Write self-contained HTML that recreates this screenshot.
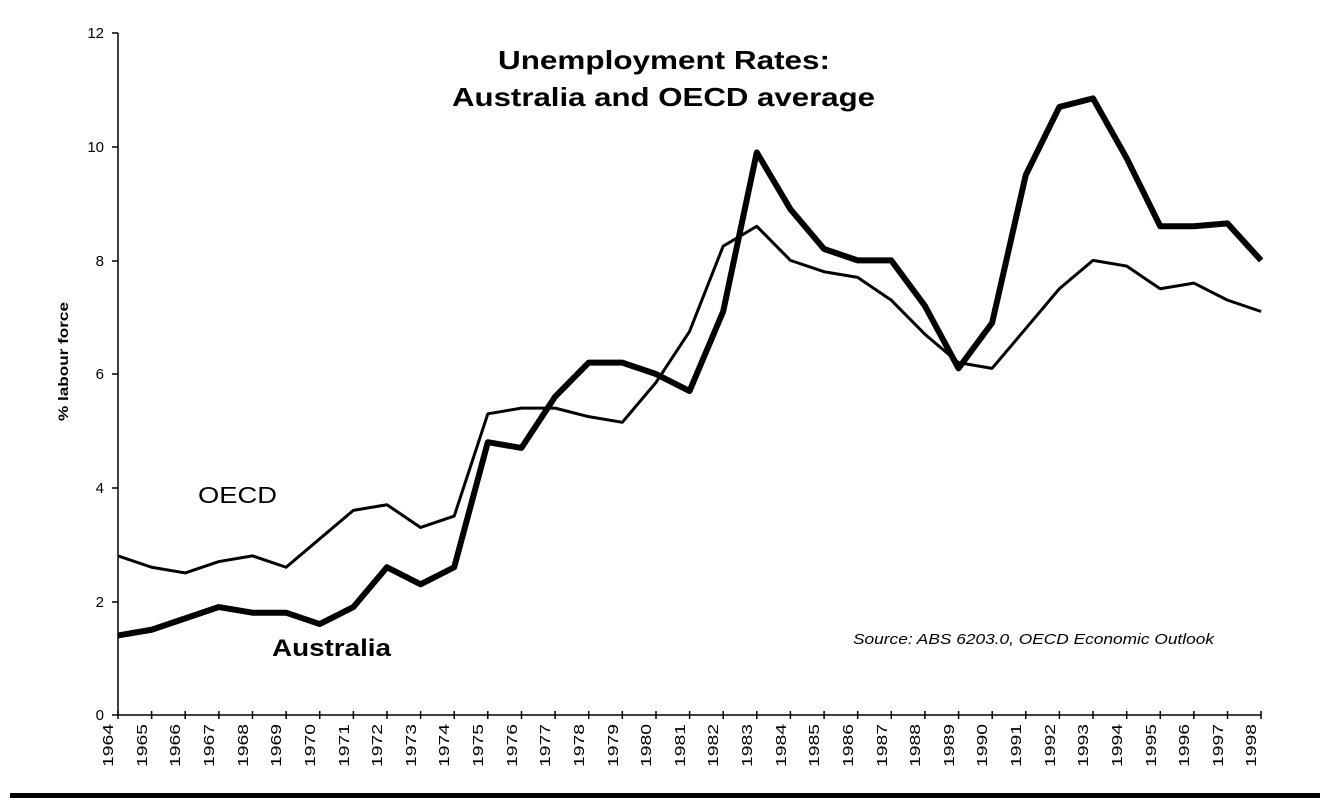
<!DOCTYPE html>
<html><head><style>body{margin:0;background:#fff}svg{display:block}text{font-family:"Liberation Sans",Arial,sans-serif}</style></head><body>
<svg width="1324" height="802" viewBox="0 0 1324 802">
<g stroke="#000" stroke-width="1.5" fill="none">
<line x1="118" y1="33" x2="118" y2="715"/>
<line x1="118" y1="715" x2="1261" y2="715"/>
<path d="M112 33h6M112 147h6M112 261h6M112 374h6M112 488h6M112 602h6M112 715h6"/>
<path d="M118 711v8M151.6 711v8M185.2 711v8M218.9 711v8M252.5 711v8M286.1 711v8M319.7 711v8M353.4 711v8M387 711v8M420.6 711v8M454.2 711v8M487.8 711v8M521.5 711v8M555.1 711v8M588.7 711v8M622.3 711v8M656 711v8M689.6 711v8M723.2 711v8M756.8 711v8M790.4 711v8M824.1 711v8M857.7 711v8M891.3 711v8M924.9 711v8M958.6 711v8M992.2 711v8M1025.8 711v8M1059.4 711v8M1093 711v8M1126.7 711v8M1160.3 711v8M1193.9 711v8M1227.5 711v8M1261 711v8"/>
</g>
<g font-size="15" text-anchor="end">
<text x="104" y="38">12</text><text x="104" y="152">10</text><text x="104" y="266">8</text><text x="104" y="379">6</text><text x="104" y="493">4</text><text x="104" y="607">2</text><text x="104" y="720">0</text>
</g>
<g font-size="15" text-anchor="end">
<text transform="translate(113,724) rotate(-90)" textLength="43" lengthAdjust="spacingAndGlyphs">1964</text><text transform="translate(147,724) rotate(-90)" textLength="43" lengthAdjust="spacingAndGlyphs">1965</text><text transform="translate(180,724) rotate(-90)" textLength="43" lengthAdjust="spacingAndGlyphs">1966</text><text transform="translate(214,724) rotate(-90)" textLength="43" lengthAdjust="spacingAndGlyphs">1967</text><text transform="translate(248,724) rotate(-90)" textLength="43" lengthAdjust="spacingAndGlyphs">1968</text><text transform="translate(281,724) rotate(-90)" textLength="43" lengthAdjust="spacingAndGlyphs">1969</text><text transform="translate(315,724) rotate(-90)" textLength="43" lengthAdjust="spacingAndGlyphs">1970</text><text transform="translate(349,724) rotate(-90)" textLength="43" lengthAdjust="spacingAndGlyphs">1971</text><text transform="translate(382,724) rotate(-90)" textLength="43" lengthAdjust="spacingAndGlyphs">1972</text><text transform="translate(416,724) rotate(-90)" textLength="43" lengthAdjust="spacingAndGlyphs">1973</text><text transform="translate(449,724) rotate(-90)" textLength="43" lengthAdjust="spacingAndGlyphs">1974</text><text transform="translate(483,724) rotate(-90)" textLength="43" lengthAdjust="spacingAndGlyphs">1975</text><text transform="translate(517,724) rotate(-90)" textLength="43" lengthAdjust="spacingAndGlyphs">1976</text><text transform="translate(550,724) rotate(-90)" textLength="43" lengthAdjust="spacingAndGlyphs">1977</text><text transform="translate(584,724) rotate(-90)" textLength="43" lengthAdjust="spacingAndGlyphs">1978</text><text transform="translate(618,724) rotate(-90)" textLength="43" lengthAdjust="spacingAndGlyphs">1979</text><text transform="translate(651,724) rotate(-90)" textLength="43" lengthAdjust="spacingAndGlyphs">1980</text><text transform="translate(685,724) rotate(-90)" textLength="43" lengthAdjust="spacingAndGlyphs">1981</text><text transform="translate(718,724) rotate(-90)" textLength="43" lengthAdjust="spacingAndGlyphs">1982</text><text transform="translate(752,724) rotate(-90)" textLength="43" lengthAdjust="spacingAndGlyphs">1983</text><text transform="translate(786,724) rotate(-90)" textLength="43" lengthAdjust="spacingAndGlyphs">1984</text><text transform="translate(819,724) rotate(-90)" textLength="43" lengthAdjust="spacingAndGlyphs">1985</text><text transform="translate(853,724) rotate(-90)" textLength="43" lengthAdjust="spacingAndGlyphs">1986</text><text transform="translate(887,724) rotate(-90)" textLength="43" lengthAdjust="spacingAndGlyphs">1987</text><text transform="translate(920,724) rotate(-90)" textLength="43" lengthAdjust="spacingAndGlyphs">1988</text><text transform="translate(954,724) rotate(-90)" textLength="43" lengthAdjust="spacingAndGlyphs">1989</text><text transform="translate(987,724) rotate(-90)" textLength="43" lengthAdjust="spacingAndGlyphs">1990</text><text transform="translate(1021,724) rotate(-90)" textLength="43" lengthAdjust="spacingAndGlyphs">1991</text><text transform="translate(1055,724) rotate(-90)" textLength="43" lengthAdjust="spacingAndGlyphs">1992</text><text transform="translate(1088,724) rotate(-90)" textLength="43" lengthAdjust="spacingAndGlyphs">1993</text><text transform="translate(1122,724) rotate(-90)" textLength="43" lengthAdjust="spacingAndGlyphs">1994</text><text transform="translate(1156,724) rotate(-90)" textLength="43" lengthAdjust="spacingAndGlyphs">1995</text><text transform="translate(1189,724) rotate(-90)" textLength="43" lengthAdjust="spacingAndGlyphs">1996</text><text transform="translate(1223,724) rotate(-90)" textLength="43" lengthAdjust="spacingAndGlyphs">1997</text><text transform="translate(1256,724) rotate(-90)" textLength="43" lengthAdjust="spacingAndGlyphs">1998</text>
</g>
<g transform="translate(118,715) scale(33.62,-56.83)" fill="none" stroke="#000" stroke-linejoin="round">
<polyline vector-effect="non-scaling-stroke" stroke-width="3" points="0,2.8 1,2.6 2,2.5 3,2.7 4,2.8 5,2.6 6,3.1 7,3.6 8,3.7 9,3.3 10,3.5 11,5.3 12,5.4 13,5.4 14,5.25 15,5.15 16,5.85 17,6.75 18,8.25 19,8.6 20,8.0 21,7.8 22,7.7 23,7.3 24,6.7 25,6.2 26,6.1 27,6.8 28,7.5 29,8.0 30,7.9 31,7.5 32,7.6 33,7.3 34,7.1"/>
<polyline vector-effect="non-scaling-stroke" stroke-width="6" points="0,1.4 1,1.5 2,1.7 3,1.9 4,1.8 5,1.8 6,1.6 7,1.9 8,2.6 9,2.3 10,2.6 11,4.8 12,4.7 13,5.6 14,6.2 15,6.2 16,6.0 17,5.7 18,7.1 19,9.9 20,8.9 21,8.2 22,8.0 23,8.0 24,7.2 25,6.1 26,6.9 27,9.5 28,10.7 29,10.85 30,9.8 31,8.6 32,8.6 33,8.65 34,8.0"/>
</g>
<text x="498" y="69" font-size="26" font-weight="bold" textLength="332" lengthAdjust="spacingAndGlyphs">Unemployment Rates:</text>
<text x="452" y="106" font-size="26" font-weight="bold" textLength="423" lengthAdjust="spacingAndGlyphs">Australia and OECD average</text>
<text transform="translate(68,421) rotate(-90)" font-size="14" font-weight="bold" textLength="119" lengthAdjust="spacingAndGlyphs">% labour force</text>
<text x="198" y="503" font-size="23" textLength="79" lengthAdjust="spacingAndGlyphs">OECD</text>
<text x="272" y="656" font-size="24" font-weight="bold" textLength="119" lengthAdjust="spacingAndGlyphs">Australia</text>
<text x="853" y="644" font-size="15" font-style="italic" textLength="361" lengthAdjust="spacingAndGlyphs">Source: ABS 6203.0, OECD Economic Outlook</text>
<rect x="10" y="793" width="1310" height="5" fill="#000"/>
</svg>
</body></html>
